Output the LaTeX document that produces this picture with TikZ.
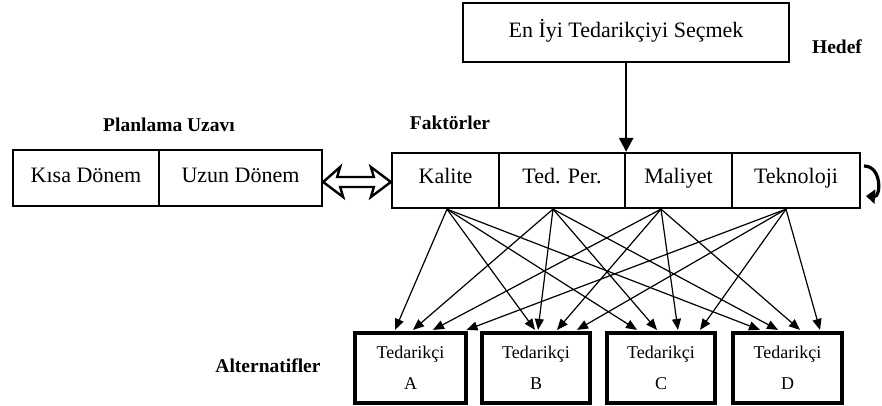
\documentclass[tikz,border=0pt]{standalone}
\usepackage{fontspec}
\setmainfont{Liberation Serif}
\usetikzlibrary{arrows.meta,calc}
\begin{document}
\begin{tikzpicture}[x=1pt,y=-1pt,
  cell/.style={draw, line width=2.3pt, inner sep=0pt, minimum height=55pt, text height=16pt, text depth=11pt, font=\fontsize{22}{26}\selectfont},
  alt/.style={draw, line width=3.2pt, inner sep=0pt, align=center, minimum height=70pt, font=\fontsize{18}{31}\selectfont},
  lbl/.style={font=\fontsize{19.5}{22}\selectfont\bfseries, inner sep=0pt},
  conn/.style={line width=1.2pt, -{Triangle[length=11pt,width=9pt]}},
  mainarrow/.style={line width=2.6pt, -{Triangle[length=14pt,width=14pt]}},
  hollow/.style={draw, line width=2.4pt, fill=white, line join=miter},
  ]
\useasboundingbox (0,0) rectangle (882,405);

% goal
\node[cell, minimum width=326pt, minimum height=59pt, text height=16pt, text depth=7pt] (top) at (626,32.5) {En İyi Tedarikçiyi Seçmek};
\node[lbl] (hedef) at (837,47) {Hedef};

% factors
\node[lbl] (fak) at (450,123) {Faktörler};
\node[cell, minimum width=107pt] (kal) at (445.5,180.5) {Kalite};
\node[cell, minimum width=126pt] (ted) at (562,180.5) {Ted. Per.};
\node[cell, minimum width=107pt] (mal) at (678.5,180.5) {Maliyet};
\node[cell, minimum width=128pt] (tek) at (796,180.5) {Teknoloji};

% planning horizon
\node[lbl] (plan) at (169,125) {Planlama Uzavı};
\node[cell, minimum width=146pt, minimum height=56pt, text height=16pt, text depth=8pt] (kisa) at (86,178) {Kısa Dönem};
\node[cell, minimum width=163pt, minimum height=56pt, text height=16pt, text depth=8pt] (uzun) at (240.5,178) {Uzun Dönem};

% alternatives
\node[lbl] (altl) at (268,366) {Alternatifler};
\node[alt, minimum width=111pt] (A) at (410.5,368) {Tedarikçi\\A};
\node[alt, minimum width=108pt] (B) at (536,368) {Tedarikçi\\B};
\node[alt, minimum width=108pt] (C) at (661,368) {Tedarikçi\\C};
\node[alt, minimum width=109pt] (D) at (787.5,368) {Tedarikçi\\D};

% goal -> factors
\coordinate (gs) at (top.south -| ted.north east);
\draw[mainarrow] (gs) -- (ted.north east);

% double hollow arrow between planning and factors
\coordinate (dl) at (uzun.east |- 0,182);
\coordinate (dr) at (kal.west |- 0,182);
\draw[hollow] (dl) -- ++(17,-15) -- ++(-3,10) -- ($(dr)+(-17,-5)$) -- ++(-3,-10) -- (dr)
  -- ++(-20,15) -- ++(3,-10) -- ($(dl)+(17,5)$) -- ++(3,10) -- cycle;

% curled arrow at right
\coordinate (c1) at (864,166);
\coordinate (c2) at (866,196);
\draw[line width=3.2pt, -{Triangle[length=9pt,width=14pt]}] (c1) .. controls (882,166) and (881,197) .. (c2);

% sources
\coordinate (sK) at ($(kal.south)+(1.5,0)$);
\coordinate (sT) at ($(ted.south)+(-9,0)$);
\coordinate (sM) at ($(mal.south)+(-17.5,0)$);
\coordinate (sE) at ($(tek.south)+(-10,0)$);

% factor -> alternative connectors
\foreach \s/\b/\dx in {sK/A/-15.5, sT/A/2.5, sM/A/22.5, sE/A/56,
                        sK/B/-1, sT/B/2, sM/B/21, sE/B/41,
                        sK/C/-24, sT/C/-4, sM/C/17, sE/C/39,
                        sK/D/-27.5, sT/D/-9.5, sM/D/12.5, sE/D/32.5}
  \draw[conn] (\s) -- ($(\b.north)+(\dx,-1.5)$);
\end{tikzpicture}
\end{document}
